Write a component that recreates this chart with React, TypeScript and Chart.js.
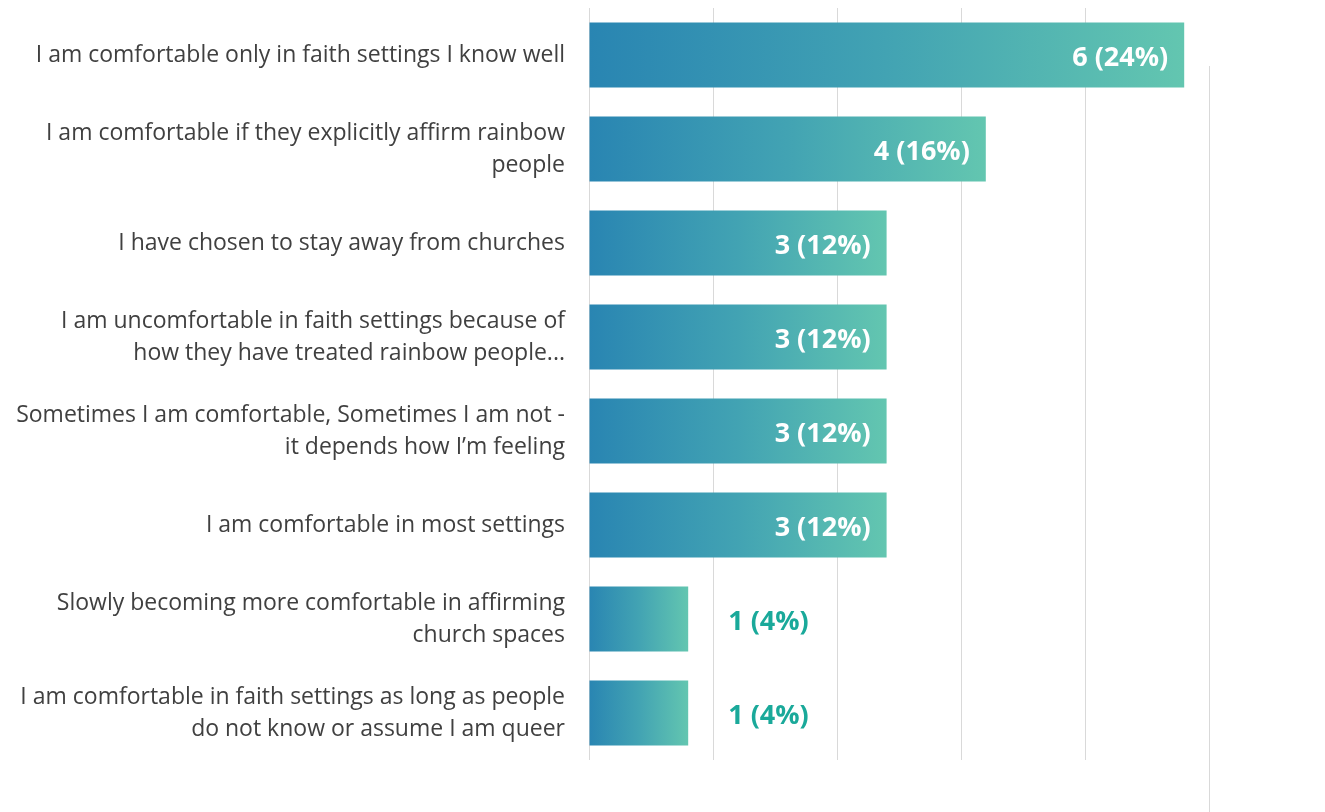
import React, { useEffect, useRef } from "react";
import { Chart, registerables } from "chart.js";

Chart.register(...registerables);

const categories: (string | string[])[] = [
  "I am comfortable only in faith settings I know well",
  ["I am comfortable if they explicitly affirm rainbow", "people"],
  "I have chosen to stay away from churches",
  ["I am uncomfortable in faith settings because of", "how they have treated rainbow people..."],
  ["Sometimes I am comfortable, Sometimes I am not -", "it depends how I\u2019m feeling"],
  "I am comfortable in most settings",
  ["Slowly becoming more comfortable in affirming", "church spaces"],
  ["I am comfortable in faith settings as long as people", "do not know or assume I am queer"],
];
const counts = [6, 4, 3, 3, 3, 3, 1, 1];
const percents = [24, 16, 12, 12, 12, 12, 4, 4];

const FONT = "'Open Sans', 'Noto Sans', sans-serif";

export default function App() {
  const ref = useRef<HTMLCanvasElement | null>(null);
  useEffect(() => {
    document.body.style.margin = "0";
    const canvas = ref.current!;
    const valueLabels = {
      id: "valueLabels",
      afterDatasetsDraw(chart: any) {
        const ctx = chart.ctx;
        const meta = chart.getDatasetMeta(0);
        ctx.save();
        ctx.font = `bold 27px ${FONT}`;
        ctx.textBaseline = "middle";
        meta.data.forEach((bar: any, i: number) => {
          const text = `${counts[i]} (${percents[i]}%)`;
          const w = ctx.measureText(text).width;
          const barW = bar.x - bar.base;
          if (barW > w + 40) {
            ctx.fillStyle = "#ffffff";
            ctx.textAlign = "right";
            ctx.fillText(text, bar.x - 16, bar.y + 3);
          } else {
            ctx.fillStyle = "#1aa99a";
            ctx.textAlign = "left";
            ctx.fillText(text, bar.x + 40, bar.y + 3);
          }
        });
        ctx.restore();
      },
    };
    const extraLine = {
      id: "extraLine",
      beforeDatasetsDraw(chart: any) {
        const ctx = chart.ctx;
        const x = chart.scales.x.getPixelForValue(6.25);
        ctx.save();
        ctx.strokeStyle = "#d9d9d9";
        ctx.lineWidth = 1;
        ctx.beginPath();
        ctx.moveTo(Math.round(x) + 0.5, 66);
        ctx.lineTo(Math.round(x) + 0.5, 812);
        ctx.stroke();
        ctx.restore();
      },
    };
    const chart = new Chart(canvas, {
      type: "bar",
      data: {
        labels: categories,
        datasets: [
          {
            data: counts,
            barPercentage: 0.69,
            categoryPercentage: 1,
            backgroundColor: (c: any) => {
              const ch = c.chart;
              if (!ch.chartArea || !ch.scales.x) return "#3a9ab4";
              const x0 = ch.scales.x.getPixelForValue(0);
              const x1 = ch.scales.x.getPixelForValue(counts[c.dataIndex] ?? 1);
              const g = ch.ctx.createLinearGradient(x0, 0, x1, 0);
              g.addColorStop(0, "#2985b2");
              g.addColorStop(0.5, "#42a3b3");
              g.addColorStop(1, "#63c6b0");
              return g;
            },
          },
        ],
      },
      options: {
        indexAxis: "y",
        animation: false,
        responsive: false,
        layout: { padding: { top: 8, bottom: 52, right: 116, left: 0 } },
        plugins: { legend: { display: false }, tooltip: { enabled: false } },
        scales: {
          x: {
            min: 0,
            max: 6.25,
            ticks: { display: false, stepSize: 1.25 },
            border: { display: false },
            grid: {
              drawTicks: false,
              color: (c: any) => (c.tick && c.tick.value > 6 ? "rgba(0,0,0,0)" : "#d9d9d9"),
            },
          },
          y: {
            border: { display: false },
            grid: { display: false, drawTicks: false },
            afterFit: (s: any) => {
              s.width = 589;
              s.paddingTop = 0;
              s.paddingBottom = 0;
            },
            ticks: {
              padding: 24,
              color: "#404040",
              font: { family: FONT, size: 23, lineHeight: 1.39 },
            },
          },
        },
      },
      plugins: [valueLabels, extraLine],
    });
    return () => chart.destroy();
  }, []);
  return (
    <div style={{ width: 1325, height: 812 }}>
      <canvas ref={ref} width={1325} height={812} style={{ display: "block" }} />
    </div>
  );
}
